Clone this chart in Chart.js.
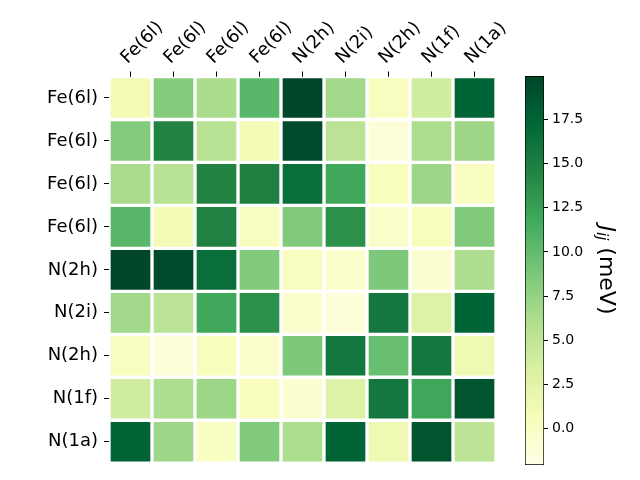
<!DOCTYPE html>
<html>
<head>
<meta charset="utf-8">
<script src="https://cdn.jsdelivr.net/npm/chart.js@4.4.0/dist/chart.umd.min.js"></script>
<style>
html, body { margin: 0; padding: 0; background: #fff; }
#wrap { position: relative; width: 640px; height: 480px; }
#heat { position: absolute; left: 0; top: 0; }
#cbar { position: absolute; left: 510px; top: 0; }
</style>
</head>
<body>
<div id="wrap">
	<canvas id="heat" width="640" height="480"></canvas>
	<canvas id="cbar" width="130" height="480"></canvas>
</div>
<script>
// site labels (same for rows and columns)
var colLabels = ['Fe(6l)', 'Fe(6l)', 'Fe(6l)', 'Fe(6l)', 'N(2h)', 'N(2i)', 'N(2h)', 'N(1f)', 'N(1a)'];
var rowLabels = ['Fe(6l)', 'Fe(6l)', 'Fe(6l)', 'Fe(6l)', 'N(2h)', 'N(2i)', 'N(2h)', 'N(1f)', 'N(1a)'];

// J_ij in meV, one array per row
var row0 = [1.1, 8.3, 6.3, 10.5, 19.9, 6.8, 0.3, 4.0, 17.4];
var row1 = [8.3, 14.5, 5.5, 1.0, 19.5, 5.3, -1.3, 6.2, 7.0];
var row2 = [6.3, 5.5, 14.5, 14.8, 16.5, 11.9, 0.5, 7.0, 0.2];
var row3 = [10.5, 1.0, 14.7, 0.4, 8.5, 13.6, -0.3, 0.5, 8.5];
var row4 = [19.9, 19.5, 16.5, 8.5, 0.4, -0.5, 8.7, -0.8, 6.2];
var row5 = [6.8, 5.3, 11.9, 13.6, -0.5, -1.3, 15.6, 3.0, 17.4];
var row6 = [0.3, -1.3, 0.5, -0.3, 8.7, 15.6, 9.7, 15.6, 1.3];
var row7 = [4.0, 6.2, 7.0, 0.5, -0.8, 3.0, 15.6, 12.0, 18.7];
var row8 = [17.4, 7.0, 0.2, 8.5, 6.2, 17.4, 1.3, 18.7, 5.2];
var jij = [row0, row1, row2, row3, row4, row5, row6, row7, row8];

// colour bar range and ticks
var cbarMin = -2.05;
var cbarMax = 19.95;
var cbarTicks = [0, 2.5, 5, 7.5, 10, 12.5, 15, 17.5];

var ylgn = ['#ffffe5', '#f7fcb9', '#d9f0a3', '#addd8e', '#78c679', '#41ab5d', '#238443', '#006837', '#004529'];

function hexToRgb(h) {
	return [parseInt(h.substr(1, 2), 16), parseInt(h.substr(3, 2), 16), parseInt(h.substr(5, 2), 16)];
}

function colorFor(v) {
	var t = (v - cbarMin) / (cbarMax - cbarMin);
	t = Math.max(0, Math.min(1, t)) * (ylgn.length - 1);
	var i = Math.min(Math.floor(t), ylgn.length - 2);
	var f = t - i;
	var a = hexToRgb(ylgn[i]), b = hexToRgb(ylgn[i + 1]);
	var c = a.map(function (x, k) { return Math.round(x + (b[k] - x) * f); });
	return 'rgb(' + c.join(',') + ')';
}

var font = 'DejaVu Sans';

new Chart('heat', {
	type: 'bar',
	data: {
		labels: colLabels,
		datasets: rowLabels.map(function (lab, r) {
			return {
				label: lab,
				data: colLabels.map(function () { return [r, r + 1]; }),
				backgroundColor: jij[r].map(colorFor),
				borderColor: '#fff',
				borderWidth: 2,
				borderSkipped: false,
				barPercentage: 1,
				categoryPercentage: 1
			};
		})
	},
	options: {
		responsive: false,
		animation: false,
		layout: { padding: { top: 0, right: 144, bottom: 16, left: 0 } },
		plugins: { legend: { display: false }, tooltip: { enabled: false } },
		scales: {
			x: {
				position: 'top',
				stacked: true,
				grid: { drawOnChartArea: false, offset: false, tickLength: 5, color: '#000' },
				border: { display: false },
				ticks: { color: '#000', font: { family: font, size: 18 }, maxRotation: 45, minRotation: 45, padding: 3, labelOffset: 9 },
				afterFit: function (s) { s.height = 76.5; }
			},
			y: {
				stacked: false,
				reverse: true,
				min: 0,
				max: 9,
				grid: { drawOnChartArea: false, tickLength: 5, color: '#000' },
				border: { display: false },
				afterBuildTicks: function (s) {
					s.ticks = rowLabels.map(function (l, i) { return { value: i + 0.5 }; });
				},
				ticks: {
					color: '#000',
					font: { family: font, size: 18 },
					padding: 6,
					callback: function (v, i) { return rowLabels[i]; }
				},
				afterFit: function (s) { s.width = 109; }
			}
		}
	}
});

var cbarTitle = {
	id: 'cbarTitle',
	afterDraw: function (chart) {
		var c = chart.ctx;
		c.save();
		c.translate(96, 270);
		c.rotate(Math.PI / 2);
		c.fillStyle = '#000';
		c.textBaseline = 'middle';
		var parts = [
			{ t: 'J', f: 'italic 22px ' + font, dy: 0 },
			{ t: 'ij', f: 'italic 15px ' + font, dy: 5 },
			{ t: ' (meV)', f: '22px ' + font, dy: 0 }
		];
		var w = 0;
		parts.forEach(function (p) { c.font = p.f; p.w = c.measureText(p.t).width; w += p.w; });
		var x = -w / 2;
		parts.forEach(function (p) {
			c.font = p.f;
			c.fillText(p.t, x, p.dy);
			x += p.w;
		});
		c.restore();
	}
};

new Chart('cbar', {
	type: 'bar',
	data: {
		labels: ['Jij'],
		datasets: [{
			data: [[cbarMin, cbarMax]],
			backgroundColor: function (ctx) {
				var chart = ctx.chart;
				if (!chart.chartArea) return ylgn[4];
				var y = chart.scales.y;
				var g = chart.ctx.createLinearGradient(0, y.getPixelForValue(cbarMin), 0, y.getPixelForValue(cbarMax));
				ylgn.forEach(function (c, i) { g.addColorStop(i / (ylgn.length - 1), c); });
				return g;
			},
			borderColor: '#000',
			borderWidth: 1,
			borderSkipped: false,
			barPercentage: 1,
			categoryPercentage: 1
		}]
	},
	plugins: [cbarTitle],
	options: {
		responsive: false,
		animation: false,
		layout: { padding: { top: 76, right: 0, bottom: 15, left: 15 } },
		plugins: { legend: { display: false }, tooltip: { enabled: false } },
		scales: {
			x: { display: false },
			y: {
				position: 'right',
				min: cbarMin,
				max: cbarMax,
				grid: { drawOnChartArea: false, tickLength: 4, color: '#000' },
				border: { display: false },
				afterBuildTicks: function (s) {
					s.ticks = cbarTicks.map(function (v) { return { value: v }; });
				},
				ticks: {
					color: '#000',
					font: { family: font, size: 14 },
					padding: 4,
					callback: function (v) { return v.toFixed(1); }
				},
				afterFit: function (s) { s.width = 96; }
			}
		}
	}
});
</script>
</body>
</html>
